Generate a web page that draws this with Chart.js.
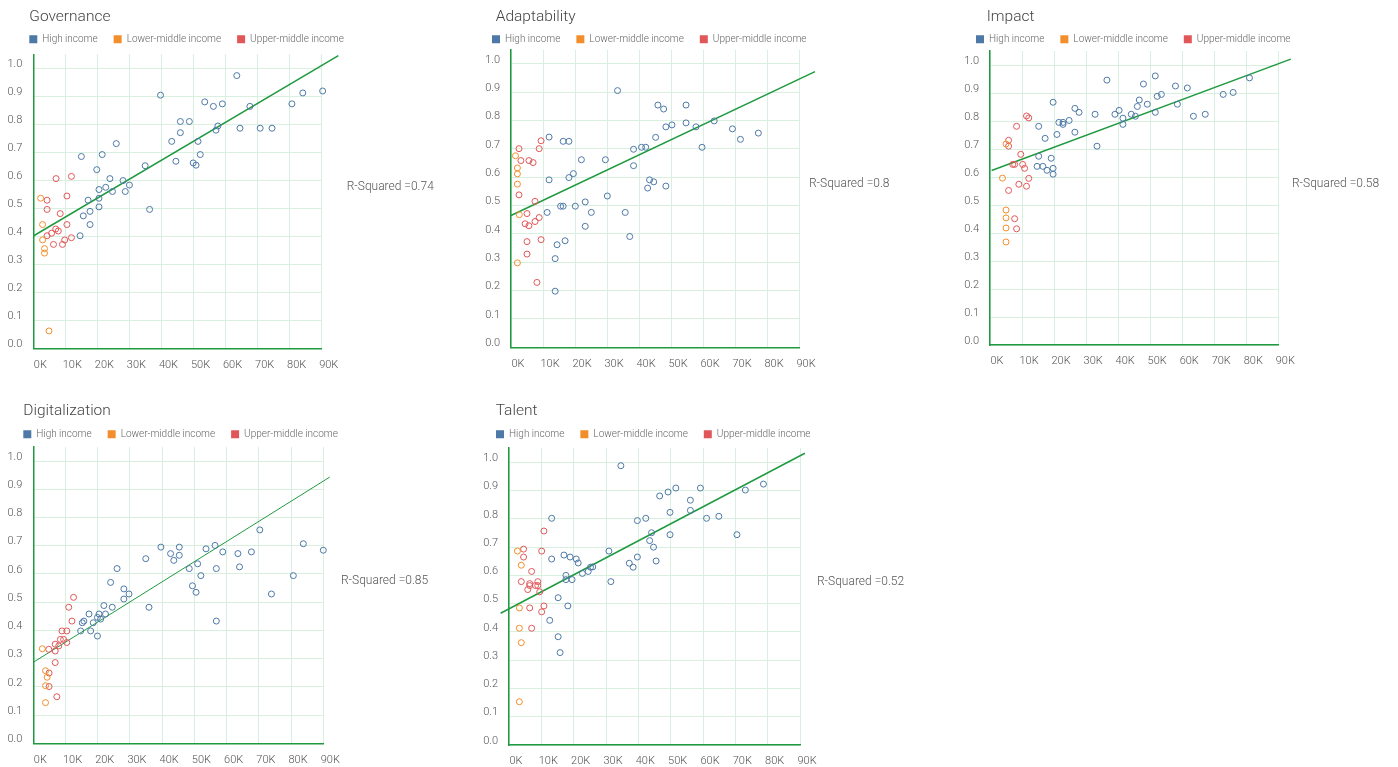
<!DOCTYPE html>
<html>
<head>
<meta charset="utf-8">
<title>Income groups scatter</title>
<script src="https://cdn.jsdelivr.net/npm/chart.js@4.4.1/dist/chart.umd.min.js"></script>
<style>
  html, body { margin: 0; padding: 0; background: #fff; }
  #page { position: relative; width: 1398px; height: 767px; overflow: hidden; }
  #page canvas { position: absolute; }
</style>
</head>
<body>
<div id="page"></div>
<script>
// groups and labels
var categories = ['High income', 'Lower-middle income', 'Upper-middle income'];
var titles = ['Governance', 'Adaptability', 'Impact', 'Digitalization', 'Talent'];
var rSquared = [0.74, 0.8, 0.58, 0.85, 0.52];
var xTicks = [0, 10, 20, 30, 40, 50, 60, 70, 80, 90];          // thousands
var yTicks = [0, 0.1, 0.2, 0.3, 0.4, 0.5, 0.6, 0.7, 0.8, 0.9, 1.0];

// [x (K), score]
var govHigh = [[63.5,0.974],[39.7,0.904],[90.3,0.919],[84.1,0.912],[80.7,0.873],[53.5,0.880],[56.2,0.864],[59.0,0.873],[67.6,0.864],[45.9,0.810],[48.7,0.810],[45.9,0.770],[57.6,0.794],[57.0,0.779],[64.5,0.786],[70.8,0.786],[74.5,0.786],[43.2,0.739],[51.4,0.739],[25.9,0.731],[44.5,0.668],[52.1,0.692],[49.9,0.662],[50.8,0.654],[34.9,0.652],[15.0,0.685],[21.5,0.692],[19.8,0.638],[23.9,0.606],[28.0,0.599],[30.0,0.583],[22.6,0.575],[20.5,0.567],[24.7,0.560],[28.7,0.560],[20.5,0.536],[17.1,0.529],[20.5,0.505],[17.7,0.489],[15.6,0.473],[17.7,0.442],[14.6,0.402],[36.3,0.496]];
var govLower = [[2.3,0.536],[2.9,0.442],[2.9,0.387],[3.5,0.356],[3.5,0.340],[4.9,0.062]];
var govUpper = [[7.1,0.606],[11.9,0.614],[4.3,0.529],[10.5,0.544],[4.3,0.496],[8.4,0.481],[10.5,0.442],[7.0,0.426],[4.3,0.402],[5.7,0.411],[9.8,0.387],[11.9,0.395],[6.3,0.371],[9.1,0.371],[7.8,0.419]];
var govTrend = [[0,0.401],[95.2,1.045]];

var adaHigh = [[33.3,0.906],[45.9,0.855],[47.7,0.841],[54.7,0.855],[54.7,0.792],[48.4,0.778],[50.3,0.785],[57.8,0.778],[63.5,0.799],[69.2,0.771],[71.7,0.734],[77.3,0.756],[59.7,0.706],[45.2,0.741],[40.8,0.706],[42.1,0.706],[38.3,0.699],[38.3,0.641],[43.3,0.591],[44.6,0.584],[42.7,0.562],[48.4,0.569],[29.5,0.662],[30.1,0.534],[35.7,0.476],[37.1,0.391],[22.0,0.662],[11.9,0.742],[16.3,0.727],[18.1,0.727],[19.5,0.613],[18.1,0.599],[11.9,0.591],[15.5,0.498],[16.3,0.498],[20.1,0.498],[23.2,0.513],[25.1,0.476],[11.3,0.476],[23.2,0.427],[14.4,0.362],[16.9,0.376],[13.8,0.313],[13.8,0.198]];
var adaLower = [[1.4,0.676],[2.0,0.633],[2.0,0.612],[2.0,0.576],[2.6,0.468],[2.0,0.298]];
var adaUpper = [[2.5,0.701],[9.4,0.729],[8.8,0.701],[3.1,0.659],[5.6,0.659],[6.9,0.652],[2.5,0.538],[7.5,0.515],[5.0,0.472],[4.4,0.436],[5.6,0.429],[7.5,0.444],[8.8,0.458],[5.0,0.373],[9.4,0.380],[5.0,0.329],[8.1,0.229]];
var adaTrend = [[0,0.465],[95,0.973]];

var impHigh = [[36.5,0.946],[51.6,0.961],[47.9,0.932],[57.9,0.925],[61.6,0.918],[81.0,0.954],[75.9,0.902],[72.8,0.895],[53.5,0.895],[52.2,0.888],[46.6,0.875],[49.1,0.860],[46.0,0.852],[58.5,0.860],[51.6,0.831],[63.5,0.817],[67.2,0.824],[40.3,0.838],[39.0,0.824],[44.1,0.824],[45.4,0.817],[41.5,0.810],[41.5,0.788],[32.8,0.824],[33.4,0.710],[19.7,0.867],[26.5,0.845],[27.8,0.831],[24.7,0.802],[21.5,0.795],[22.8,0.795],[22.8,0.788],[20.9,0.752],[26.5,0.760],[15.2,0.781],[17.2,0.738],[15.2,0.674],[19.1,0.667],[14.7,0.638],[16.5,0.638],[17.8,0.624],[19.7,0.631],[19.7,0.610]];
var impLower = [[5.0,0.718],[3.9,0.596],[5.0,0.482],[5.0,0.454],[5.0,0.418],[5.0,0.368]];
var impUpper = [[11.4,0.818],[12.1,0.811],[8.3,0.781],[5.8,0.731],[5.8,0.710],[9.6,0.681],[7.1,0.645],[7.7,0.645],[10.2,0.645],[10.8,0.631],[9.0,0.574],[12.1,0.595],[11.4,0.567],[5.8,0.552],[7.7,0.451],[8.3,0.415]];
var impTrend = [[0.5,0.623],[93.9,1.021]];

var digHigh = [[70.3,0.756],[83.8,0.707],[90.0,0.684],[39.6,0.695],[45.3,0.695],[42.6,0.672],[45.3,0.666],[43.6,0.648],[34.9,0.654],[53.6,0.689],[56.4,0.701],[58.8,0.678],[63.5,0.672],[67.7,0.678],[64.0,0.625],[56.8,0.619],[48.4,0.619],[51.0,0.636],[52.0,0.594],[49.4,0.558],[50.5,0.535],[80.7,0.594],[73.9,0.529],[56.8,0.433],[26.0,0.619],[24.0,0.570],[28.1,0.547],[29.7,0.529],[28.1,0.511],[35.9,0.482],[21.9,0.488],[24.5,0.482],[22.4,0.458],[20.4,0.458],[19.9,0.446],[20.9,0.440],[17.3,0.458],[15.7,0.433],[15.2,0.427],[18.6,0.427],[17.8,0.398],[14.7,0.398],[19.9,0.380]];
var digLower = [[2.8,0.335],[3.8,0.257],[4.3,0.234],[3.8,0.204],[3.8,0.144]];
var digUpper = [[12.5,0.517],[11.0,0.482],[12.0,0.433],[8.9,0.398],[10.4,0.398],[8.4,0.368],[9.4,0.368],[10.4,0.357],[6.8,0.351],[7.9,0.345],[4.8,0.333],[6.8,0.327],[6.8,0.286],[4.9,0.249],[4.9,0.201],[7.3,0.165]];
var digTrend = [[0,0.287],[92,0.943]];

var talHigh = [[34.6,0.988],[78.7,0.923],[73.1,0.902],[59.2,0.909],[51.6,0.909],[49.2,0.895],[46.6,0.881],[56.1,0.866],[56.1,0.830],[49.8,0.823],[61.1,0.802],[64.9,0.809],[42.3,0.802],[39.7,0.794],[13.2,0.802],[44.1,0.751],[49.8,0.744],[70.5,0.744],[43.5,0.723],[44.7,0.700],[45.5,0.651],[39.7,0.665],[37.2,0.643],[38.4,0.629],[30.9,0.686],[31.5,0.578],[17.0,0.672],[18.9,0.665],[20.8,0.658],[21.4,0.644],[13.2,0.658],[17.6,0.600],[17.6,0.585],[19.5,0.585],[22.7,0.607],[24.5,0.614],[25.2,0.629],[25.9,0.630],[15.2,0.521],[18.2,0.492],[12.6,0.441],[15.2,0.383],[15.8,0.327]];
var talLower = [[2.6,0.686],[3.8,0.636],[3.2,0.485],[3.2,0.413],[3.8,0.362],[3.2,0.153]];
var talUpper = [[10.8,0.757],[4.5,0.693],[10.1,0.686],[4.5,0.665],[7.0,0.614],[3.8,0.578],[6.4,0.571],[6.4,0.564],[8.2,0.564],[8.9,0.578],[8.9,0.564],[5.8,0.550],[9.5,0.542],[10.8,0.492],[6.4,0.485],[10.1,0.471],[7.0,0.413]];
var talTrend = [[-2.6,0.466],[91.5,1.032]];

var groupColors = ['#4e79a7', '#f28e2b', '#e15759'];
var green = '#1f9a40';
var gridGreen = '#d9efdf';
var FONT = 'Roboto, "Liberation Sans", sans-serif';
var LEG_PAD = 16;

// panel placement (canvas px); legX/legY = first legend box / legend row centre
var panels = [
  {series: [govHigh, govLower, govUpper], trend: govTrend, left: 0,   top: 0,   w: 465, h: 380, padL: 3.3, padT: 18.3, padB: 9.7, rW: 143.3, tx: 29.3, ty: 17.3, legX: 29.3, legY: 39.3, rOff: 25,   lw: 1.5},
  {series: [adaHigh, adaLower, adaUpper], trend: adaTrend, left: 470, top: 0,   w: 460, h: 380, padL: 11,  padT: 13.8, padB: 10.7, rW: 131,  tx: 25.7, ty: 17.3, legX: 22,   legY: 39.3, rOff: 10,   lw: 1.5},
  {series: [impHigh, impLower, impUpper], trend: impTrend, left: 940, top: 0,   w: 458, h: 380, padL: 20,  padT: 15,   padB: 13,  rW: 119.7, tx: 46.7, ty: 16.7, legX: 36,   legY: 39.3, rOff: 13.7, lw: 1.5},
  {series: [digHigh, digLower, digUpper], trend: digTrend, left: 0,   top: 395, w: 465, h: 372, padL: 3.3, padT: 15.9, padB: 1.7, rW: 141.7, tx: 23.3, ty: 16,   legX: 23.3, legY: 39.3, rOff: 17.7, lw: 1},
  {series: [talHigh, talLower, talUpper], trend: talTrend, left: 470, top: 395, w: 460, h: 372, padL: 9,   padT: 17.2, padB: 0,   rW: 130,  tx: 25.7, ty: 16,   legX: 26,   legY: 39.3, rOff: 17,   lw: 1.5}
];

function toPts(arr) {
  return arr.map(function(p){ return {x: p[0], y: p[1]}; });
}

// title, r-squared text, legend placement
var panelText = {
  id: 'panelText',
  afterLayout: function(chart, args, opts) {
    var lg = chart.legend;
    if (!lg) return;
    var dx = (opts.legX - LEG_PAD) - lg.left;
    var dy = (opts.legY - LEG_PAD - 5) - lg.top;
    lg.left += dx; lg.right += dx;
    lg.top += dy; lg.bottom += dy;
  },
  afterDraw: function(chart, args, opts) {
    var ctx = chart.ctx;
    ctx.save();
    ctx.textAlign = 'left';
    ctx.textBaseline = 'middle';
    ctx.fillStyle = '#444';
    ctx.font = '300 15.5px ' + FONT;
    ctx.fillText(opts.title, opts.tx, opts.ty);
    ctx.fillStyle = '#555';
    ctx.font = '300 12px ' + FONT;
    var y = chart.scales.y.getPixelForValue(0.575);
    ctx.fillText('R-Squared =' + opts.r2, chart.chartArea.right + opts.rOff, y);
    ctx.restore();
  }
};

var page = document.getElementById('page');

panels.forEach(function(p, i) {
  var cv = document.createElement('canvas');
  cv.width = p.w; cv.height = p.h;
  cv.style.left = p.left + 'px'; cv.style.top = p.top + 'px';
  cv.style.width = p.w + 'px'; cv.style.height = p.h + 'px';
  page.appendChild(cv);

  var datasets = p.series.map(function(s, k) {
    return {
      label: categories[k],
      data: toPts(s),
      backgroundColor: groupColors[k],
      borderColor: groupColors[k],
      borderWidth: 0,
      pointRadius: 3,
      pointBorderWidth: 1,
      pointBorderColor: groupColors[k],
      pointBackgroundColor: 'rgba(255,255,255,0)',
      pointHoverRadius: 3,
      clip: false
    };
  });
  datasets.push({
    label: 'trend',
    data: toPts(p.trend),
    showLine: true,
    borderColor: green,
    borderWidth: p.lw,
    pointRadius: 0,
    fill: false,
    clip: false
  });

  new Chart(cv, {
    type: 'scatter',
    data: { datasets: datasets },
    plugins: [panelText],
    options: {
      responsive: false,
      devicePixelRatio: 1,
      animation: false,
      events: [],
      layout: { padding: { left: p.padL, top: p.padT, bottom: p.padB, right: 0 } },
      plugins: {
        title: { display: false },
        tooltip: { enabled: false },
        legend: {
          display: true,
          position: 'top',
          align: 'start',
          labels: {
            boxWidth: 8,
            boxHeight: 8,
            padding: LEG_PAD,
            color: '#666',
            font: { family: FONT, size: 10, weight: '300' },
            generateLabels: function(chart) {
              var items = Chart.defaults.plugins.legend.labels.generateLabels(chart);
              return items.filter(function(it) { return it.datasetIndex < 3; }).map(function(it) {
                it.fillStyle = groupColors[it.datasetIndex];
                it.strokeStyle = groupColors[it.datasetIndex];
                it.lineWidth = 0;
                return it;
              });
            }
          }
        },
        panelText: { title: titles[i], r2: rSquared[i], tx: p.tx, ty: p.ty, legX: p.legX, legY: p.legY, rOff: p.rOff }
      },
      scales: {
        x: {
          type: 'linear',
          min: 0,
          max: 90,
          afterBuildTicks: function(s) { s.ticks = xTicks.map(function(v){ return {value: v}; }); },
          afterFit: function(s) { s.height = 22; },
          grid: { color: gridGreen, lineWidth: 1, drawTicks: false },
          border: { color: green, width: 1.5 },
          ticks: {
            padding: 10,
            labelOffset: 7,
            color: '#555',
            font: { family: FONT, size: 11, weight: '300' },
            maxRotation: 0,
            callback: function(v) { return v + 'K'; }
          }
        },
        y: {
          type: 'linear',
          min: 0,
          max: 1.05,
          afterBuildTicks: function(s) { s.ticks = yTicks.map(function(v){ return {value: v}; }); },
          afterFit: function(s) { s.width = 30; },
          grid: { color: gridGreen, lineWidth: 1, drawTicks: false },
          border: { color: green, width: 1.5 },
          ticks: {
            padding: 11,
            labelOffset: -4,
            color: '#555',
            font: { family: FONT, size: 11, weight: '300' },
            callback: function(v) { return Number(v).toFixed(1); }
          }
        },
        yRight: {
          type: 'linear',
          position: 'right',
          display: true,
          grid: { display: false },
          border: { display: false },
          ticks: { display: false },
          afterFit: function(s) { s.width = p.rW; }
        }
      }
    }
  });
});
</script>
</body>
</html>
